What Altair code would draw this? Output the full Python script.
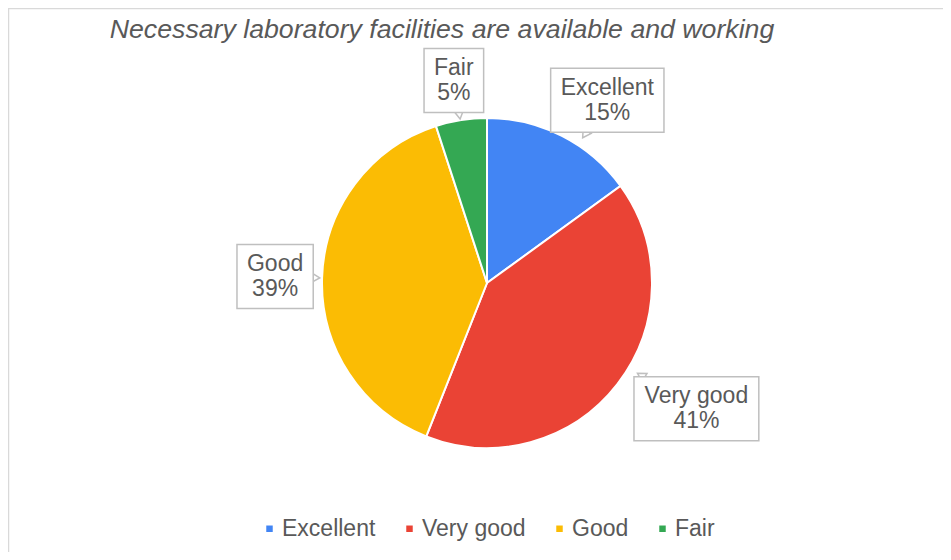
import math
import altair as alt
import numpy as np
import pandas as pd

# ---- data ----
categories = ["Excellent", "Very good", "Good", "Fair"]
percents = [15, 41, 39, 5]
colors = ["#4285F4", "#EA4335", "#FBBC04", "#34A853"]
title_text = "Necessary laboratory facilities are available and working"

# ---- layout / style ----
W, H = 935, 544
CX, CY, R = 479, 275, 165
LRX_RIGHT, LRX_LEFT, LRY = 265, 212, 205
FONT = "Liberation Sans"
GRAY = "#595959"
FS = 23
BOX_H = 64

# approximate Arial advance widths (em) for box sizing
_aw = {"E": .667, "x": .5, "c": .5, "e": .556, "l": .222, "n": .556, "t": .278,
       "V": .667, "r": .333, "y": .5, " ": .278, "g": .556, "o": .556, "d": .556,
       "G": .778, "F": .611, "a": .556, "i": .222, "%": .889}


def text_w(s):
    return sum(_aw.get(ch, .556) for ch in s) * FS


df = pd.DataFrame({"category": categories, "value": percents,
                   "order": list(range(len(categories)))})
total = float(sum(percents))
start = df["value"].cumsum() - df["value"]
mid = (start + df["value"] / 2) / total * 2 * math.pi
s, c = np.sin(mid), np.cos(mid)
df["label"] = df["category"] + "\n" + df["value"].astype(str) + "%"
df["lx"] = CX + np.where(s >= 0, LRX_RIGHT, LRX_LEFT) * s
df["ly"] = CY - LRY * c
df["bw"] = [max(text_w(a), text_w(f"{p}%")) + 20 for a, p in zip(categories, percents)]
df["x0"] = df["lx"] - df["bw"] / 2
df["x1"] = df["lx"] + df["bw"] / 2
df["y0"] = df["ly"] - BOX_H / 2
df["y1"] = df["ly"] + BOX_H / 2

# pointer position: where the line from box centre toward the pie centre leaves the box
dx = CX - df["lx"]
dy = CY - df["ly"]
norm = np.sqrt(dx ** 2 + dy ** 2)
ux, uy = dx / norm, dy / norm
tx = (df["bw"] / 2) / np.maximum(np.abs(ux), 1e-9)
ty = (BOX_H / 2) / np.maximum(np.abs(uy), 1e-9)
t = np.minimum(tx, ty) + 1
df["px"] = df["lx"] + t * ux
df["py"] = df["ly"] + t * uy
df["pang"] = (np.degrees(np.arctan2(ux, -uy)) + 360) % 360

base = alt.Chart(df)

pie = base.mark_arc(outerRadius=R, stroke="white", strokeWidth=2).encode(
    theta=alt.Theta("value:Q", stack=True),
    color=alt.Color(
        "category:N",
        scale=alt.Scale(domain=categories, range=colors),
        legend=alt.Legend(
            title=None, orient="none", legendX=250, legendY=509,
            direction="horizontal", symbolType="square", symbolSize=42,
            symbolStrokeWidth=0, labelFontSize=FS, labelFont=FONT,
            labelColor=GRAY, columnPadding=22, labelOffset=1,
        ),
    ),
    order=alt.Order("order:Q"),
    x=alt.value(CX),
    y=alt.value(CY),
)

pointers = base.mark_point(
    shape="triangle", filled=True, fill="white", stroke="#bfbfbf",
    strokeWidth=1.5, size=90, opacity=1,
).encode(
    x=alt.X("px:Q", scale=None, axis=None),
    y=alt.Y("py:Q", scale=None, axis=None),
    angle=alt.Angle("pang:Q", scale=None),
)

boxes = base.mark_rect(fill="white", stroke="#bfbfbf", strokeWidth=1.5).encode(
    x=alt.X("x0:Q", scale=None, axis=None),
    x2="x1:Q",
    y=alt.Y("y0:Q", scale=None, axis=None),
    y2="y1:Q",
)

labels = base.mark_text(
    font=FONT, fontSize=FS, color=GRAY, lineBreak="\n", lineHeight=25,
    baseline="middle", align="center", dy=-12.5,
).encode(
    x=alt.X("lx:Q", scale=None, axis=None),
    y=alt.Y("ly:Q", scale=None, axis=None),
    text="label:N",
)

title = alt.Chart(pd.DataFrame({"t": [title_text]})).mark_text(
    font=FONT, fontSize=26.7, fontStyle="italic", color=GRAY,
    align="center", baseline="middle",
).encode(x=alt.value(434), y=alt.value(22), text="t:N")

border_left = alt.Chart(pd.DataFrame({"a": [0]})).mark_rule(
    color="#d9d9d9", strokeWidth=1.5
).encode(x=alt.value(0.5), y=alt.value(0), y2=alt.value(H))
border_top = alt.Chart(pd.DataFrame({"a": [0]})).mark_rule(
    color="#d9d9d9", strokeWidth=1.5
).encode(x=alt.value(0), x2=alt.value(W), y=alt.value(0.5))

chart = alt.layer(pie, pointers, boxes, labels, title, border_left, border_top).properties(
    width=W, height=H, autosize="none", padding=0
).configure_view(stroke=None)

chart.save("out.html", embed_options={"renderer": "svg", "actions": False})
